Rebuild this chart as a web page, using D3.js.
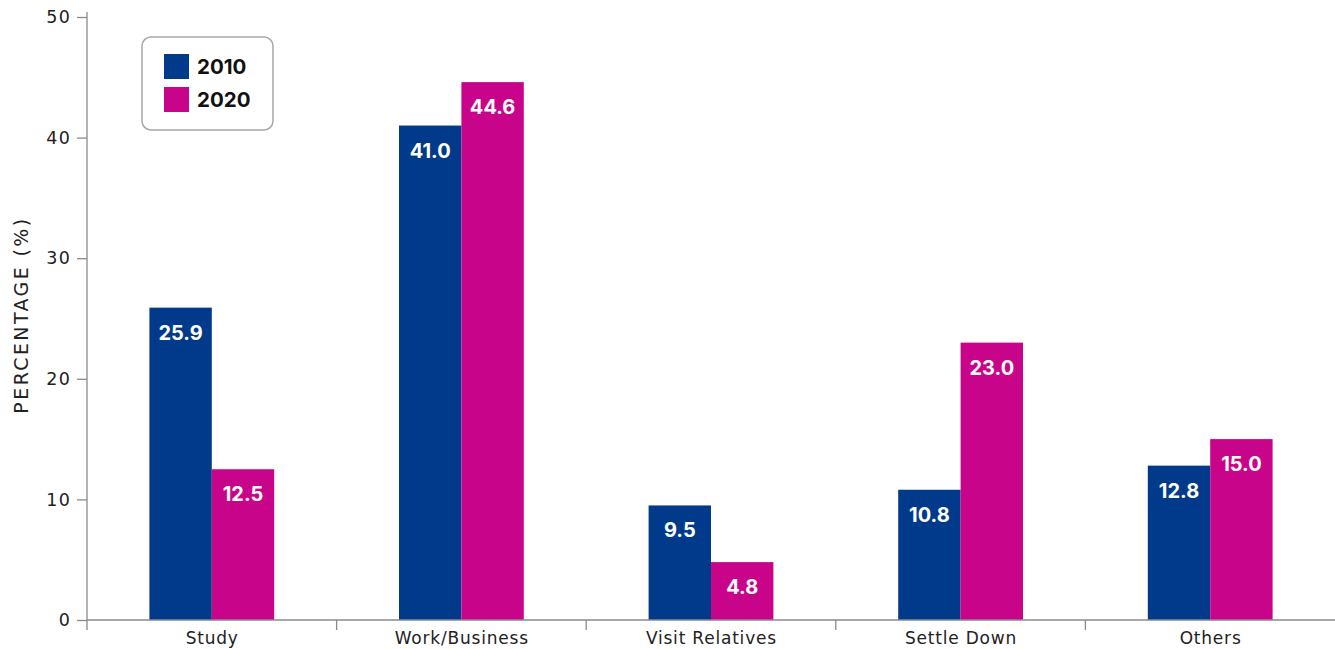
<!DOCTYPE html>
<html>
<head>
<meta charset="utf-8">
<script src="https://cdn.jsdelivr.net/npm/d3@7"></script>
<style>
  html, body { margin: 0; padding: 0; background: #fff; }
  svg { display: block; }
  text { font-family: "DejaVu Sans", "Noto Sans", sans-serif; }
  text.bold { font-family: "Inter", "Noto Sans", sans-serif; font-weight: 700; }
</style>
</head>
<body>
<svg id="chart" width="1335" height="649"></svg>
<script>
// Purpose of travel, share of respondents by year
const categories = ["Study", "Work/Business", "Visit Relatives", "Settle Down", "Others"];
const years = ["2010", "2020"];
const values2010 = [25.9, 41.0, 9.5, 10.8, 12.8];
const values2020 = [12.5, 44.6, 4.8, 23.0, 15.0];
const yTicks = [0, 10, 20, 30, 40, 50];
const colors = ["#023a8b", "#c8058a"];

const series = [values2010, values2020];

const svg = d3.select("#chart");
const margin = { top: 17, right: 0, bottom: 29, left: 87 };
const width = 1335, height = 649;
const innerW = width - margin.left - margin.right;
const innerH = height - margin.top - margin.bottom;

const g = svg.append("g").attr("transform", `translate(${margin.left},${margin.top})`);

const x = d3.scaleBand().domain(categories).range([0, innerW]).paddingInner(0).paddingOuter(0);
const xSub = d3.scaleBand().domain(years).range([x.bandwidth() * 0.25, x.bandwidth() * 0.75]);
const y = d3.scaleLinear().domain([0, 50]).range([innerH, 0]);

// Bars with value labels inside the top
categories.forEach((cat, i) => {
  years.forEach((yr, j) => {
    const v = series[j][i];
    const bx = x(cat) + xSub(yr);
    g.append("rect")
      .attr("x", bx)
      .attr("y", y(v))
      .attr("width", xSub.bandwidth())
      .attr("height", y(0) - y(v))
      .attr("fill", colors[j]);
    g.append("text")
      .attr("class", "bold")
      .attr("x", bx + xSub.bandwidth() / 2)
      .attr("y", y(v) + 32)
      .attr("text-anchor", "middle")
      .attr("fill", "#fff")
      .attr("font-size", 20)
      .text(v.toFixed(1));
  });
});

// Y axis
const yAxis = g.append("g")
  .call(d3.axisLeft(y).tickValues(yTicks).tickSize(10).tickPadding(6).tickFormat(d3.format("d")));
yAxis.select(".domain").attr("stroke", "#8a8a8a").attr("stroke-width", 1.3)
  .attr("d", `M0,${y(50) - 5}V${innerH + 10}`);
yAxis.selectAll(".tick line").attr("stroke", "#8a8a8a").attr("stroke-width", 1.3);
yAxis.selectAll(".tick text").attr("fill", "#222").attr("font-size", 17.5)
  .attr("letter-spacing", 1.2);

// X axis baseline with category dividers
const xAxis = g.append("g").attr("transform", `translate(0,${innerH})`);
xAxis.append("line").attr("x1", 0).attr("x2", innerW).attr("y1", 0).attr("y2", 0)
  .attr("stroke", "#8a8a8a").attr("stroke-width", 1.3);
xAxis.selectAll("line.div").data(categories.slice(1)).join("line")
  .attr("class", "div")
  .attr("x1", d => x(d)).attr("x2", d => x(d))
  .attr("y1", 0).attr("y2", 10)
  .attr("stroke", "#8a8a8a").attr("stroke-width", 1.3);
xAxis.selectAll("text.cat").data(categories).join("text")
  .attr("class", "cat")
  .attr("x", d => x(d) + x.bandwidth() / 2 + 0.4)
  .attr("y", 24)
  .attr("text-anchor", "middle")
  .attr("fill", "#222")
  .attr("font-size", 17)
  .attr("letter-spacing", 0.8)
  .text(d => d);

// Y axis title
svg.append("text")
  .attr("transform", `translate(28,315) rotate(-90)`)
  .attr("text-anchor", "middle")
  .attr("fill", "#222")
  .attr("font-size", 19)
  .attr("letter-spacing", 2.4)
  .text("PERCENTAGE (%)");

// Legend
const legend = svg.append("g").attr("transform", "translate(142,37)");
legend.append("rect")
  .attr("width", 131).attr("height", 93).attr("rx", 9)
  .attr("fill", "#fff").attr("stroke", "#a8a8a8").attr("stroke-width", 1.5);
years.forEach((yr, j) => {
  legend.append("rect")
    .attr("x", 22).attr("y", 17 + j * 33)
    .attr("width", 25).attr("height", 25)
    .attr("fill", colors[j]);
  legend.append("text")
    .attr("class", "bold")
    .attr("x", 55).attr("y", 37 + j * 33)
    .attr("fill", "#111")
    .attr("font-size", 20.5)
    .text(yr);
});
</script>
</body>
</html>
